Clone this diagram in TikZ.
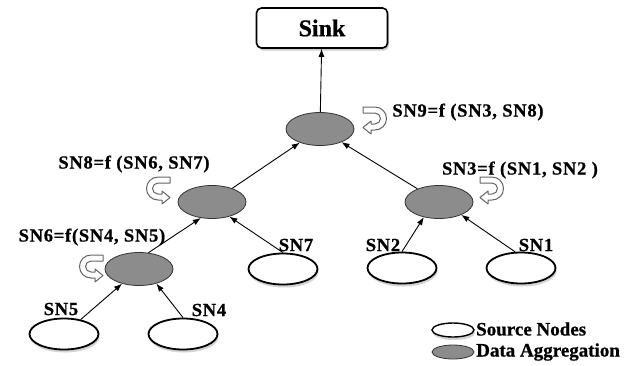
\documentclass[tikz,border=0pt]{standalone}
\usepackage{fontspec}
\setmainfont{Liberation Serif}
\usetikzlibrary{arrows.meta,shapes.geometric,shadows}

\definecolor{aggfill}{RGB}{140,140,140}
\definecolor{loopedge}{RGB}{100,100,100}

\newfontfamily\labelfont{Liberation Serif}[LetterSpace=4, FakeBold=0.8]
\newfontfamily\headfont{Liberation Serif}[FakeBold=0.8]

\tikzset{
  source/.style={ellipse, draw=black, line width=1.8pt, fill=white,
    minimum width=69pt, minimum height=31pt, inner sep=0pt,
    drop shadow={opacity=0.35, shadow xshift=1pt, shadow yshift=-3pt}},
  agg/.style={ellipse, draw=black!80, line width=0.8pt, fill=aggfill,
    minimum width=68pt, minimum height=33pt, inner sep=0pt},
  lbl/.style={font=\labelfont\fontsize{18.5}{20}\selectfont\bfseries, inner sep=0pt},
  legtext/.style={font=\headfont\fontsize{19}{21}\selectfont\bfseries, inner sep=0pt, anchor=west},
  arr/.style={-{Latex[length=8pt,width=6pt]}, line width=0.9pt},
  sinkbox/.style={draw=black, line width=1.6pt, rounded corners=5pt, fill=white,
    minimum width=131pt, minimum height=40pt,
    font=\headfont\fontsize{24}{26}\selectfont\bfseries,
    drop shadow={opacity=0.4, shadow xshift=1.5pt, shadow yshift=-2.5pt}},
  pics/turnloop/.style={code={
    \filldraw[draw=loopedge, fill=white, line width=1pt, line join=round]
      (0,0) -- (12,0) arc[start angle=-90, end angle=90, radius=11.5]
      -- (8,23) -- (8,27) -- (0,20.5) -- (8,14) -- (8,17) -- (12,17)
      arc[start angle=90, end angle=-90, radius=5.5] -- (0,6) -- cycle;
  }}
}

\begin{document}
\begin{tikzpicture}[x=1pt, y=-1pt]
\useasboundingbox (0,0) rectangle (636,365);

% sink at the top
\node[sinkbox] (sink) at (322,28) {Sink};

% aggregation nodes
\node[agg] (sn9) at (320,129) {};
\node[agg] (sn8) at (212,202) {};
\node[agg] (sn3) at (439,202) {};
\node[agg] (sn6) at (139,269) {};

% source nodes
\node[source] (sn7) at (283,269) {};
\node[source] (sn2) at (402,268) {};
\node[source] (sn1) at (521,268) {};
\node[source] (sn5) at (64,334) {};
\node[source] (sn4) at (183,334) {};

% node labels
\node[lbl] (t9) at (468,112) {SN9=f (SN3, SN8)};
\node[lbl] (t8) at (134,164) {SN8=f (SN6, SN7)};
\node[lbl] (t3) at (520,170) {SN3=f (SN1, SN2 )};
\node[lbl] (t6) at (92,237) {SN6=f(SN4, SN5)};
\node[lbl] (t7) at (296,245) {SN7};
\node[lbl] (t2) at (383,245) {SN2};
\node[lbl] (t1) at (536,245) {SN1};
\node[lbl] (t5) at (61,309) {SN5};
\node[lbl] (t4) at (209,310) {SN4};

% aggregation markers
\pic at (363,107) {turnloop};
\pic at (480,177) {turnloop};
\pic[xscale=-1] at (170,177) {turnloop};
\pic[xscale=-1] at (103,255) {turnloop};

% data flow towards the sink
\draw[arr] (sn9) -- (sink);
\draw[arr] (sn8) -- (sn9);
\draw[arr] (sn3) -- (sn9);
\draw[arr] (sn6.60) -- (sn8.235);
\draw[arr] (sn7.north) -- (sn8.-40);
\draw[arr] (sn2.north) -- (sn3.225);
\draw[arr] (sn1.110) -- (sn3.-30);
\draw[arr] (sn5) -- (sn6);
\draw[arr] (sn4.north) -- (sn6.-40);

% legend
\node[source, minimum width=42pt, minimum height=14pt, line width=1.4pt] (leg1) at (453,330) {};
\node[agg, minimum width=42pt, minimum height=14pt] (leg2) at (453,352) {};
\node[legtext] (legt1) at (476,329) {Source Nodes};
\node[legtext] (legt2) at (476,352) {Data Aggregation};
\end{tikzpicture}
\end{document}
